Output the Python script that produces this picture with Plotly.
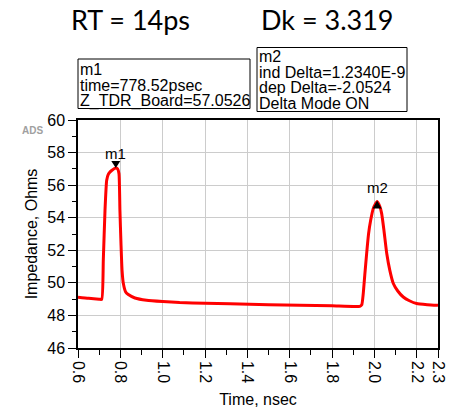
import plotly.graph_objects as go

# TDR impedance trace of the board (time in ns, impedance in ohms)
time_ns = [0.600, 0.650, 0.700, 0.712, 0.7195, 0.7275, 0.7355, 0.743, 0.751, 0.759,
           0.7785, 0.787, 0.7935, 0.798, 0.803, 0.808, 0.814, 0.825, 0.8375, 0.869,
           0.924, 1.000, 1.080, 1.200, 1.318, 1.500, 1.648, 1.800, 1.931, 1.940,
           1.947, 1.955, 1.963, 1.972, 1.982, 1.995, 2.0125, 2.025, 2.034, 2.045,
           2.058, 2.072, 2.089, 2.110, 2.136, 2.165, 2.199, 2.250, 2.300]
z_ohms = [49.12, 49.05, 49.00, 48.99, 51.4, 54.45, 56.3, 56.66, 56.8, 56.9,
          57.05, 57.0, 56.7, 54.45, 52.4, 50.77, 49.97, 49.44, 49.28, 49.07,
          48.93, 48.85, 48.79, 48.75, 48.72, 48.66, 48.62, 48.59, 48.56, 48.65,
          49.34, 50.6, 51.8, 53.0, 53.84, 54.6, 55.0, 54.7, 54.25, 53.2,
          51.8, 50.8, 49.96, 49.5, 49.13, 48.9, 48.73, 48.66, 48.62]

# Markers
m1_time, m1_z = 0.77852, 57.0526
m2_dtime, m2_dz = 1.2340, -2.0524
m2_time, m2_z = m1_time + m2_dtime, m1_z + m2_dz

x_ticks = [0.6, 0.8, 1.0, 1.2, 1.4, 1.6, 1.8, 2.0, 2.2, 2.3]
y_ticks = [46, 48, 50, 52, 54, 56, 58, 60]

W, H = 452, 413
L, R, T, B = 78, 14, 120, 65
pw, ph = W - L - R, H - T - B


def px(x):
    return (x - L) / pw


def py(y):
    return (H - B - y) / ph


FONT = "Liberation Sans, Arial, sans-serif"

fig = go.Figure()
fig.add_trace(go.Scatter(x=time_ns, y=z_ohms, mode="lines",
                         line=dict(color="#ff0000", width=3, shape="spline", smoothing=0.5),
                         hoverinfo="skip", showlegend=False))

axis_common = dict(showline=True, linecolor="black", linewidth=1.5, mirror=True,
                   ticks="outside", ticklen=8, tickcolor="black", tickwidth=1,
                   showgrid=True, gridcolor="#cccccc", gridwidth=1, zeroline=False,
                   tickfont=dict(family=FONT, size=16, color="black"))

fig.update_xaxes(range=[0.6, 2.3], tickvals=x_ticks, ticktext=[f"{v:.1f}" for v in x_ticks],
                 tickangle=90,
                 minor=dict(ticks="outside", ticklen=5, tickcolor="black", dtick=0.1,
                            tick0=0.6, showgrid=False),
                 title=dict(text="Time, nsec", font=dict(family=FONT, size=16, color="black"),
                            standoff=12),
                 **axis_common)
fig.update_yaxes(range=[46, 60], tickvals=y_ticks,
                 minor=dict(ticks="outside", ticklen=4, tickcolor="black", dtick=1,
                            showgrid=False),
                 title=dict(text="Impedance, Ohms", font=dict(family=FONT, size=16, color="black"),
                            standoff=6),
                 **axis_common)

shapes = [
    # marker triangles anchored at the marker points
    dict(type="path", xref="x", yref="y", xsizemode="pixel", ysizemode="pixel",
         xanchor=m1_time, yanchor=m1_z, path="M -4.5 7 L 4.5 7 L 0 0 Z",
         fillcolor="black", line=dict(width=0)),
    dict(type="path", xref="x", yref="y", xsizemode="pixel", ysizemode="pixel",
         xanchor=m2_time, yanchor=m2_z, path="M -4.5 -7 L 4.5 -7 L 0 1 Z",
         fillcolor="black", line=dict(width=0)),
    # readout boxes
    dict(type="rect", xref="paper", yref="paper", x0=px(78), x1=px(250), y0=py(108.5), y1=py(59),
         line=dict(color="black", width=1), fillcolor="white", layer="above"),
    dict(type="rect", xref="paper", yref="paper", x0=px(257), x1=px(407), y0=py(111.5), y1=py(47.5),
         line=dict(color="black", width=1), fillcolor="white", layer="above"),
]

ann = []
ann.append(dict(x=m1_time, y=m1_z, xref="x", yref="y", text="m1", showarrow=False,
                yshift=15, font=dict(family=FONT, size=15, color="black")))
ann.append(dict(x=m2_time, y=m2_z, xref="x", yref="y", text="m2", showarrow=False,
                yshift=14, font=dict(family=FONT, size=15, color="black")))

m1_lines = ["m1", f"time={m1_time * 1000:.2f}psec", f"Z_TDR_Board={m1_z:.4f}"]
for i, t in enumerate(m1_lines):
    ann.append(dict(x=px(78), y=py(69.5 + 15.5 * i), xref="paper", yref="paper", text=t,
                    showarrow=False, xanchor="left", yanchor="middle",
                    font=dict(family=FONT, size=16, color="black")))
m2_lines = ["m2", f"ind Delta={m2_dtime:.4f}E-9", f"dep Delta={m2_dz:.4f}", "Delta Mode ON"]
for i, t in enumerate(m2_lines):
    ann.append(dict(x=px(257), y=py(56.5 + 15.5 * i), xref="paper", yref="paper", text=t,
                    showarrow=False, xanchor="left", yanchor="middle",
                    font=dict(family=FONT, size=16, color="black")))

for cx, t in [(130, "RT = 14ps"), (327, "Dk = 3.319")]:
    ann.append(dict(x=px(cx), y=py(19), xref="paper", yref="paper", text=t,
                    showarrow=False, xanchor="center", yanchor="middle",
                    font=dict(family="Lato, sans-serif", size=27, color="black")))
ann.append(dict(x=px(32), y=py(130), xref="paper", yref="paper", text="<b>ADS</b>",
                showarrow=False, xanchor="center", yanchor="middle",
                font=dict(family=FONT, size=10, color="#a0a0a0")))

fig.update_layout(width=W, height=H, margin=dict(l=L, r=R, t=T, b=B, autoexpand=False),
                  paper_bgcolor="white", plot_bgcolor="white",
                  shapes=shapes, annotations=ann)

fig.write_html("out.html")
